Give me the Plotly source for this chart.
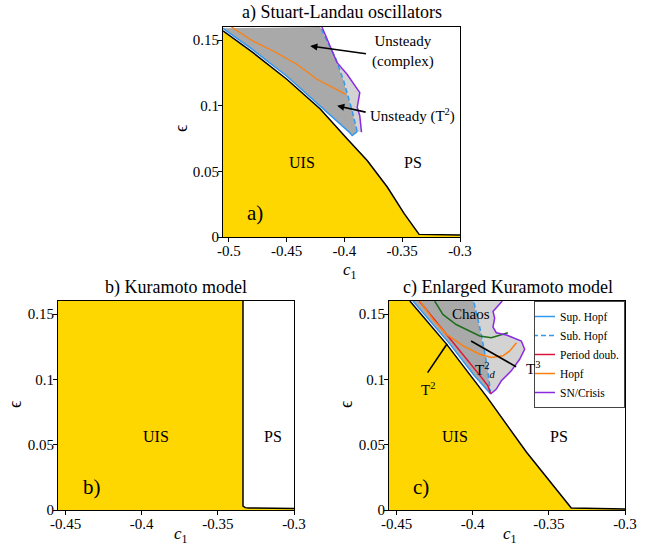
import plotly.graph_objects as go

# ---------------- data ----------------
# Panel a) Stuart-Landau oscillators
a_bound_c1 = [-0.505, -0.479, -0.4498, -0.4209, -0.3977, -0.3803, -0.3629, -0.3484, -0.3354, -0.3]
a_bound_eps = [0.157, 0.1404, 0.1202, 0.0975, 0.0748, 0.0583, 0.0381, 0.018, 0.002, 0.0015]
a_sup_c1 = [-0.505, -0.479, -0.4498, -0.4209, -0.4050, -0.3963, -0.3933, -0.3889]
a_sup_eps = [0.159, 0.1425, 0.1225, 0.100, 0.0875, 0.0803, 0.0773, 0.0803]
a_sub_c1 = [-0.3889, -0.3933, -0.4006, -0.4078, -0.4209]
a_sub_eps = [0.0803, 0.0962, 0.119, 0.1366, 0.16]
a_sn_c1 = [-0.4194, -0.4063, -0.3977, -0.3867, -0.3889, -0.3867, -0.3852]
a_sn_eps = [0.16, 0.1328, 0.124, 0.110, 0.0987, 0.0924, 0.0798]
a_hopf_c1 = [-0.4977, -0.4789, -0.4615, -0.4411, -0.4237, -0.4122, -0.3991]
a_hopf_eps = [0.16, 0.1492, 0.1417, 0.1316, 0.1202, 0.1152, 0.1089]

# Panel b) Kuramoto model
b_bound_c1 = [-0.3335, -0.3335, -0.332, -0.33, -0.3]
b_bound_eps = [0.16, 0.003, 0.0018, 0.0015, 0.0012]

# Panel c) Enlarged Kuramoto model
c_bound_c1 = [-0.4413, -0.4172, -0.391, -0.3648, -0.3353, -0.3]
c_bound_eps = [0.16, 0.127, 0.087, 0.0444, 0.0015, 0.0008]
c_sup_c1 = [-0.4393, -0.4150, -0.3990, -0.3920, -0.3882]
c_sup_eps = [0.16, 0.127, 0.103, 0.094, 0.0888]
c_pd_c1 = [-0.4351, -0.4118, -0.3960, -0.3900, -0.3882]
c_pd_eps = [0.16, 0.127, 0.104, 0.095, 0.0888]
c_sub_c1 = [-0.3882, -0.3905, -0.3945, -0.3994]
c_sub_eps = [0.0888, 0.110, 0.135, 0.16]
c_sn_c1 = [-0.3806, -0.3867, -0.3856, -0.3867, -0.3845, -0.3779, -0.3681, -0.3659,
           -0.3692, -0.3747, -0.3812, -0.3845, -0.3882]
c_sn_eps = [0.16, 0.152, 0.147, 0.140, 0.1357, 0.134, 0.1294, 0.123,
            0.1154, 0.1065, 0.0989, 0.0926, 0.0888]
c_green_c1 = [-0.425, -0.4196, -0.4109, -0.402, -0.3954, -0.3878, -0.3812, -0.3769]
c_green_eps = [0.16, 0.1497, 0.142, 0.137, 0.1332, 0.1319, 0.1344, 0.1357]
c_hopf_c1 = [-0.4347, -0.426, -0.4172, -0.4063, -0.3954, -0.3878, -0.3801, -0.3757, -0.3713]
c_hopf_eps = [0.16, 0.1459, 0.1345, 0.1256, 0.1192, 0.1167, 0.118, 0.1218, 0.128]

# axes
a_xrange = [-0.505, -0.3]
bc_xrange = [-0.455, -0.3]
eps_range = [0, 0.16]
a_xticks = [-0.5, -0.45, -0.4, -0.35, -0.3]
a_xticktext = ["-0.5", "-0.45", "-0.4", "-0.35", "-0.3"]
bc_xticks = [-0.45, -0.4, -0.35, -0.3]
bc_xticktext = ["-0.45", "-0.4", "-0.35", "-0.3"]
yticks = [0, 0.05, 0.1, 0.15]
yticktext = ["0", "0.05", "0.1", "0.15"]

# styles
FONT = "Liberation Serif"
YELLOW = "#FFD700"
DGRAY = "#a9a9a9"
LGRAY = "#d3d3d3"
BLUE = "#3399ee"
RED = "#dc143c"
ORANGE = "#ff7f0e"
PURPLE = "#8a2be2"
GREEN = "#1e6e1e"
W = 654
H = 548

fig = go.Figure()


def add(x, y, xa, ya, **kw):
    fig.add_trace(go.Scatter(x=x, y=y, xaxis=xa, yaxis=ya, mode="lines",
                             hoverinfo="skip", showlegend=kw.pop("showlegend", False), **kw))


# ---- panel a ----
add(a_bound_c1, a_bound_eps, "x", "y", fill="tozeroy", fillcolor=YELLOW, line=dict(width=0))
add(a_sup_c1 + a_sub_c1, a_sup_eps + a_sub_eps, "x", "y", fill="toself", fillcolor=DGRAY, line=dict(width=0))
add(a_sub_c1 + a_sn_c1, a_sub_eps + a_sn_eps, "x", "y", fill="toself", fillcolor=LGRAY, line=dict(width=0))
add(a_bound_c1, a_bound_eps, "x", "y", line=dict(color="black", width=1.5))
add(a_sup_c1, a_sup_eps, "x", "y", line=dict(color=BLUE, width=1.5))
add(a_sub_c1, a_sub_eps, "x", "y", line=dict(color=BLUE, width=1.5, dash="5px,3px"))
add(a_hopf_c1, a_hopf_eps, "x", "y", line=dict(color=ORANGE, width=1.3))
add(a_sn_c1, a_sn_eps, "x", "y", line=dict(color=PURPLE, width=1.5))

# ---- panel b ----
add([bc_xrange[0]] + b_bound_c1, [eps_range[1]] + b_bound_eps, "x2", "y2",
    fill="tozeroy", fillcolor=YELLOW, line=dict(width=0))
add(b_bound_c1, b_bound_eps, "x2", "y2", line=dict(color="black", width=1.5))

# ---- panel c ----
add([bc_xrange[0]] + c_bound_c1, [eps_range[1]] + c_bound_eps, "x3", "y3",
    fill="tozeroy", fillcolor=YELLOW, line=dict(width=0))
add(c_sup_c1 + c_sub_c1, c_sup_eps + c_sub_eps, "x3", "y3", fill="toself", fillcolor=DGRAY, line=dict(width=0))
add(c_sub_c1 + c_sn_c1, c_sub_eps + c_sn_eps, "x3", "y3", fill="toself", fillcolor=LGRAY, line=dict(width=0))
add(c_bound_c1, c_bound_eps, "x3", "y3", line=dict(color="black", width=1.5))
add(c_sup_c1, c_sup_eps, "x3", "y3", line=dict(color=BLUE, width=1.5), name="Sup. Hopf",
    showlegend=True, legendrank=1)
add(c_sub_c1, c_sub_eps, "x3", "y3", line=dict(color=BLUE, width=1.5, dash="5px,3px"), name="Sub. Hopf",
    showlegend=True, legendrank=2)
add(c_pd_c1, c_pd_eps, "x3", "y3", line=dict(color=RED, width=1.5), name="Period doub.",
    showlegend=True, legendrank=3)
add(c_hopf_c1, c_hopf_eps, "x3", "y3", line=dict(color=ORANGE, width=1.5), name="Hopf",
    showlegend=True, legendrank=4)
add(c_green_c1, c_green_eps, "x3", "y3", line=dict(color=GREEN, width=1.5))
add(c_sn_c1, c_sn_eps, "x3", "y3", line=dict(color=PURPLE, width=1.5), name="SN/Crisis",
    showlegend=True, legendrank=5)


def px_x(p):
    return p / W


def px_y(p):
    return 1 - p / H


def xaxis(dom, rng, tv, tt, anchor):
    return dict(domain=dom, range=rng, tickvals=tv, ticktext=tt, anchor=anchor,
                showgrid=False, zeroline=False, showline=True, linecolor="black", linewidth=1,
                mirror=True, ticks="outside", ticklen=4, tickcolor="black", automargin=False,
                ticklabelstandoff=-4,
                tickfont=dict(family=FONT, size=15, color="black"), layer="above traces")


def yaxis(dom, anchor):
    return dict(domain=dom, range=eps_range, tickvals=yticks, ticktext=yticktext, anchor=anchor,
                showgrid=False, zeroline=False, showline=True, linecolor="black", linewidth=1,
                mirror=True, ticks="outside", ticklen=4, tickcolor="black", automargin=False,
                ticklabelstandoff=-4,
                tickfont=dict(family=FONT, size=15, color="black"), layer="above traces")


ann = []


def txt(x, y, s, ref, size=16, **kw):
    d = dict(x=x, y=y, text=s, showarrow=False, xanchor="center", yanchor="middle",
             font=dict(family=FONT, size=size, color="black"))
    if ref == "paper":
        d.update(xref="paper", yref="paper")
    else:
        d.update(xref=ref[0], yref=ref[1])
    d.update(kw)
    ann.append(d)


def arrow(x0, y0, x1, y1, ref, head=True):
    ann.append(dict(x=x1, y=y1, ax=x0, ay=y0, xref=ref[0], yref=ref[1], axref=ref[0], ayref=ref[1],
                    text="", showarrow=True, arrowhead=2 if head else 0, arrowsize=0.9,
                    arrowwidth=1.6, arrowcolor="black", standoff=0))


# titles
txt(px_x(341.5), px_y(13), "a) Stuart-Landau oscillators", "paper", size=18)
txt(px_x(176), px_y(287), "b) Kuramoto model", "paper", size=18)
txt(px_x(507.5), px_y(287), "c) Enlarged Kuramoto model", "paper", size=18)

# axis labels
c1_label = "<i>c</i><sub>1</sub>"
txt(px_x(350), px_y(271), c1_label, "paper", size=17)
txt(px_x(181), 0, c1_label, "paper", size=17, yanchor="bottom")
txt(px_x(510), 0, c1_label, "paper", size=17, yanchor="bottom")
txt(px_x(181), px_y(129), "ϵ", "paper", size=18, textangle=-90)
txt(px_x(15), px_y(405), "ϵ", "paper", size=18, textangle=-90)
txt(px_x(346), px_y(405), "ϵ", "paper", size=18, textangle=-90)

# panel a texts
A = ("x", "y")
txt(-0.4367, 0.057, "UIS", A, size=16)
txt(-0.3405, 0.057, "PS", A, size=16)
txt(-0.4774, 0.0185, "a)", A, size=21)
txt(-0.3496, 0.1417, "Unsteady<br>(complex)", A, size=15)
txt(-0.3411, 0.0924, "Unsteady (T<sup>2</sup>)", A, size=15)
arrow(-0.380, 0.1394, -0.4296, 0.1455, A)
arrow(-0.3803, 0.0949, -0.4063, 0.100, A)

# panel b texts
B = ("x2", "y2")
txt(-0.3905, 0.0565, "UIS", B, size=16)
txt(-0.3138, 0.0565, "PS", B, size=16)
txt(-0.4326, 0.0175, "b)", B, size=21)

# panel c texts
C = ("x3", "y3")
txt(-0.4114, 0.0566, "UIS", C, size=16)
txt(-0.3436, 0.0566, "PS", C, size=16)
txt(-0.4338, 0.0175, "c)", C, size=21)
txt(-0.4009, 0.150, "Chaos", C, size=15)
txt(-0.3919, 0.107, "T<sup>2</sup><sub><i>d</i></sub>", C, size=15)
txt(-0.3606, 0.109, "T<sup>3</sup>", C, size=15)
txt(-0.4294, 0.0926, "T<sup>2</sup>", C, size=15)
arrow(-0.4303, 0.104, -0.4168, 0.1273, C, head=False)
arrow(-0.3705, 0.109, -0.4011, 0.1294, C, head=False)

fig.update_layout(
    width=W, height=H, margin=dict(l=0, r=0, t=0, b=0, pad=0, autoexpand=False),
    paper_bgcolor="white", plot_bgcolor="white",
    font=dict(family=FONT, color="black"),
    xaxis=xaxis([px_x(223), px_x(460)], a_xrange, a_xticks, a_xticktext, "y"),
    yaxis=yaxis([px_y(237), px_y(27)], "x"),
    xaxis2=xaxis([px_x(58), px_x(294)], bc_xrange, bc_xticks, bc_xticktext, "y2"),
    yaxis2=yaxis([px_y(510), px_y(301)], "x2"),
    xaxis3=xaxis([px_x(389), px_x(625)], bc_xrange, bc_xticks, bc_xticktext, "y3"),
    yaxis3=yaxis([px_y(510), px_y(301)], "x3"),
    annotations=ann,
    legend=dict(x=px_x(625), y=px_y(301), xanchor="right", yanchor="top",
                bgcolor="rgba(255,255,255,0.85)", bordercolor="#444", borderwidth=1,
                font=dict(family=FONT, size=11.5, color="black"), itemwidth=30,
                indentation=-15, tracegroupgap=0),
    showlegend=True,
)

fig.write_html("out.html", config={"displayModeBar": False},
               post_script="document.body.style.margin='0px';")
